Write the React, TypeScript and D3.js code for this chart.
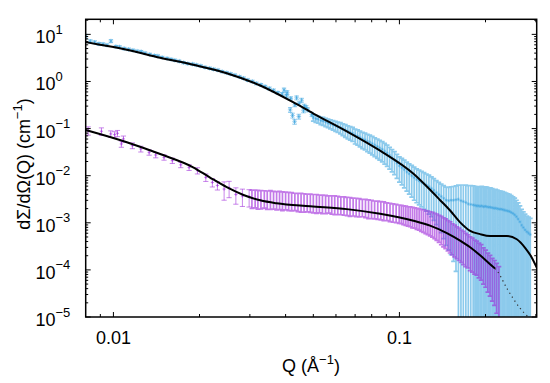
import React from 'react';
import * as d3 from 'd3';

const W = 550;
const H = 383;
const PL = 85.7, PR = 536.7, PT = 19.3, PB = 317;

// ---------- blue sample (upper curve) ----------
const blueLowQ = [0.0080, 0.0083, 0.0086, 0.0089, 0.0092, 0.0095, 0.0098, 0.0102, 0.0105, 0.0109, 0.0113, 0.0117, 0.0121, 0.0125, 0.0129, 0.0134, 0.0139, 0.0143, 0.0148, 0.0154, 0.0159, 0.0164, 0.0170, 0.0176, 0.0182, 0.0189, 0.0195, 0.0202, 0.0209, 0.0217, 0.0224, 0.0232, 0.0240, 0.0249, 0.0257, 0.0266, 0.0276, 0.0285, 0.0295, 0.0306, 0.0316, 0.0328, 0.0339, 0.0351, 0.0363, 0.0376, 0.0389, 0.0403, 0.0417, 0.0431, 0.0446, 0.0462, 0.0478, 0.0494, 0.0395, 0.0405, 0.0415, 0.0423, 0.0430, 0.0437, 0.0445, 0.0455, 0.0465, 0.0472];
const blueLowI = [9.1, 7.1, 6.8, 6.3, 6.2, 5.9, 7.2, 5.5, 5.4, 5.0, 4.8, 4.6, 4.4, 4.3, 4.0, 3.76, 3.55, 3.47, 3.24, 3.09, 2.95, 2.82, 2.69, 2.51, 2.40, 2.34, 2.24, 2.14, 2.00, 1.91, 1.82, 1.74, 1.62, 1.53, 1.45, 1.36, 1.26, 1.17, 1.07, 1.00, 0.91, 0.85, 0.78, 0.71, 0.645, 0.575, 0.537, 0.50, 0.437, 0.32, 0.34, 0.24, 0.251, 0.20, 0.66, 0.58, 0.25, 0.19, 0.14, 0.45, 0.18, 0.40, 0.30, 0.28];
const blueLowRelErr = [0.1, 0.08, 0.07, 0.07, 0.06, 0.06, 0.07, 0.06, 0.06, 0.06, 0.06, 0.05, 0.05, 0.05, 0.05, 0.05, 0.05, 0.05, 0.05, 0.05, 0.05, 0.05, 0.05, 0.05, 0.05, 0.05, 0.05, 0.05, 0.05, 0.05, 0.05, 0.05, 0.05, 0.05, 0.05, 0.05, 0.05, 0.06, 0.06, 0.06, 0.06, 0.06, 0.06, 0.07, 0.07, 0.07, 0.08, 0.08, 0.08, 0.09, 0.09, 0.1, 0.1, 0.1, 0.1, 0.1, 0.12, 0.12, 0.12, 0.1, 0.12, 0.1, 0.1, 0.1];

const blueHighQ = [0.0500, 0.0510, 0.0520, 0.0531, 0.0541, 0.0552, 0.0563, 0.0574, 0.0586, 0.0598, 0.0609, 0.0622, 0.0634, 0.0647, 0.0660, 0.0673, 0.0686, 0.0700, 0.0714, 0.0728, 0.0743, 0.0758, 0.0773, 0.0788, 0.0804, 0.0820, 0.0837, 0.0853, 0.0871, 0.0888, 0.0906, 0.0924, 0.0942, 0.0961, 0.0980, 0.1000, 0.1020, 0.1040, 0.1061, 0.1082, 0.1104, 0.1126, 0.1149, 0.1172, 0.1195, 0.1219, 0.1243, 0.1268, 0.1294, 0.1319, 0.1346, 0.1373, 0.1400, 0.1428, 0.1457, 0.1486, 0.1516, 0.1546, 0.1577, 0.1608, 0.1641, 0.1673, 0.1707, 0.1741, 0.1776, 0.1811, 0.1837, 0.1862, 0.1888, 0.1915, 0.1941, 0.1969, 0.1996, 0.2024, 0.2053, 0.2081, 0.2111, 0.2140, 0.2170, 0.2201, 0.2232, 0.2263, 0.2295, 0.2327, 0.2360, 0.2393, 0.2426, 0.2460, 0.2495, 0.2530, 0.2565, 0.2601, 0.2638, 0.2675, 0.2712, 0.2750, 0.2789, 0.2828, 0.2868];
const blueHighI = [0.170, 0.162, 0.158, 0.148, 0.145, 0.138, 0.132, 0.126, 0.120, 0.115, 0.110, 0.105, 0.098, 0.0933, 0.0871, 0.0832, 0.0794, 0.0724, 0.0692, 0.0646, 0.0603, 0.0575, 0.0537, 0.0513, 0.0479, 0.0447, 0.0417, 0.0389, 0.0363, 0.0331, 0.0302, 0.0269, 0.0240, 0.0214, 0.0186, 0.0162, 0.0148, 0.0135, 0.0120, 0.0110, 0.0100, 0.00912, 0.00832, 0.00776, 0.00724, 0.00676, 0.00631, 0.00589, 0.00537, 0.00490, 0.00437, 0.00398, 0.00363, 0.00331, 0.00302, 0.00295, 0.00302, 0.00302, 0.00309, 0.00316, 0.00295, 0.00282, 0.00269, 0.00251, 0.00245, 0.00240, 0.00234, 0.00229, 0.00229, 0.00224, 0.00229, 0.00219, 0.00224, 0.00219, 0.00214, 0.00214, 0.00209, 0.00204, 0.00204, 0.00200, 0.00195, 0.00195, 0.00191, 0.00186, 0.00182, 0.00178, 0.00174, 0.00166, 0.00158, 0.00148, 0.00135, 0.00120, 0.00105, 0.000891, 0.000794, 0.000708, 0.000646, 0.000603, 0.000562];
const blueHighRelErr = [0.15, 0.16, 0.17, 0.18, 0.19, 0.20, 0.21, 0.22, 0.23, 0.24, 0.25, 0.27, 0.28, 0.30, 0.31, 0.32, 0.33, 0.35, 0.36, 0.37, 0.38, 0.39, 0.40, 0.41, 0.42, 0.43, 0.44, 0.45, 0.46, 0.47, 0.48, 0.49, 0.50, 0.51, 0.53, 0.55, 0.57, 0.59, 0.61, 0.63, 0.65, 0.67, 0.68, 0.69, 0.70, 0.71, 0.72, 0.74, 0.75, 0.77, 0.79, 0.81, 0.83, 0.86, 0.89, 0.91, 0.93, 0.95, 0.97, 1.0, 1.15, 1.25, 1.35, 1.45, 1.5, 1.52, 1.54, 1.55, 1.56, 1.57, 1.58, 1.59, 1.6, 1.6, 1.58, 1.57, 1.55, 1.52, 1.5, 1.47, 1.44, 1.42, 1.4, 1.38, 1.35, 1.32, 1.3, 1.28, 1.26, 1.25, 1.23, 1.2, 1.18, 1.16, 1.15, 1.15, 1.16, 1.18, 1.2];

const blueFitQ = [0.0080, 0.00898, 0.01114, 0.01457, 0.0190, 0.0249, 0.0326, 0.0425, 0.050, 0.0655, 0.0856, 0.112, 0.128, 0.1388, 0.1504, 0.163, 0.1767, 0.1915, 0.2075, 0.2374, 0.2573, 0.2751, 0.2904, 0.3021];
const blueFitI = [6.85, 6.03, 4.72, 3.19, 2.26, 1.50, 0.822, 0.363, 0.209, 0.0871, 0.0339, 0.01096, 0.00501, 0.00302, 0.00182, 0.00102, 0.000676, 0.000575, 0.000525, 0.000525, 0.000447, 0.000295, 0.000182, 0.000112];

// ---------- purple sample (lower curve) ----------
const purpleLowQ = [0.00816, 0.00908, 0.00979, 0.0101, 0.01033, 0.01066, 0.01084, 0.01165, 0.01247, 0.01333, 0.01406, 0.01503, 0.01607, 0.0172, 0.01839, 0.01967, 0.02104, 0.02218, 0.0231, 0.02438, 0.02538, 0.0268, 0.02825, 0.02982];
const purpleLowI = [0.0906, 0.0877, 0.0771, 0.0745, 0.0794, 0.0472, 0.0604, 0.0435, 0.0370, 0.0313, 0.0275, 0.0245, 0.0209, 0.0170, 0.0150, 0.0128, 0.0092, 0.0072, 0.0062, 0.0052, 0.0055, 0.0040, 0.0037, 0.0036];
const purpleLowRelErr = [0.2, 0.18, 0.16, 0.15, 0.15, 0.15, 0.15, 0.14, 0.14, 0.13, 0.13, 0.13, 0.13, 0.13, 0.14, 0.15, 0.18, 0.2, 0.2, 0.42, 0.38, 0.38, 0.4, 0.4];

const purpleHighQ = [0.0305, 0.0313, 0.0320, 0.0328, 0.0337, 0.0345, 0.0354, 0.0363, 0.0372, 0.0381, 0.0390, 0.0400, 0.0410, 0.0420, 0.0431, 0.0442, 0.0453, 0.0464, 0.0476, 0.0488, 0.0500, 0.0513, 0.0525, 0.0538, 0.0552, 0.0566, 0.0580, 0.0594, 0.0609, 0.0624, 0.0640, 0.0656, 0.0672, 0.0689, 0.0706, 0.0724, 0.0742, 0.0761, 0.0780, 0.0799, 0.0819, 0.0840, 0.0861, 0.0882, 0.0904, 0.0927, 0.0950, 0.0974, 0.0998, 0.1016, 0.1034, 0.1053, 0.1072, 0.1091, 0.1111, 0.1131, 0.1151, 0.1172, 0.1193, 0.1214, 0.1236, 0.1258, 0.1281, 0.1304, 0.1328, 0.1351, 0.1376, 0.1401, 0.1426, 0.1451, 0.1478, 0.1504, 0.1531, 0.1559, 0.1587, 0.1616, 0.1645, 0.1674, 0.1705, 0.1735, 0.1767, 0.1798, 0.1831, 0.1864, 0.1897, 0.1931, 0.1966, 0.2002, 0.2038, 0.2074, 0.2112, 0.2150, 0.2188, 0.2228];
const purpleHighI = [0.00347, 0.00352, 0.00341, 0.00338, 0.00342, 0.00333, 0.00339, 0.00330, 0.00324, 0.00328, 0.00316, 0.00319, 0.00312, 0.00309, 0.00303, 0.00298, 0.00296, 0.00291, 0.00288, 0.00286, 0.00281, 0.00279, 0.00276, 0.00271, 0.00269, 0.00267, 0.00262, 0.00260, 0.00258, 0.00251, 0.00249, 0.00244, 0.00241, 0.00236, 0.00234, 0.00230, 0.00224, 0.00222, 0.00215, 0.00212, 0.00206, 0.00203, 0.00199, 0.00194, 0.00188, 0.00183, 0.00177, 0.00173, 0.00168, 0.00165, 0.00160, 0.00157, 0.00152, 0.00150, 0.00145, 0.00142, 0.00137, 0.00134, 0.00128, 0.00125, 0.00120, 0.00117, 0.00112, 0.00108, 0.00102, 0.000980, 0.000910, 0.000855, 0.000790, 0.000745, 0.000680, 0.000635, 0.000580, 0.000540, 0.000498, 0.000465, 0.000424, 0.000392, 0.000356, 0.000333, 0.000300, 0.000281, 0.000255, 0.000242, 0.000219, 0.000202, 0.000172, 0.000153, 0.000130, 0.000116, 0.0000990, 0.0000880, 0.0000750, 0.0000603];
const purpleHighRelErr = [0.42, 0.41, 0.43, 0.42, 0.40, 0.42, 0.43, 0.41, 0.42, 0.42, 0.43, 0.41, 0.42, 0.42, 0.40, 0.42, 0.43, 0.42, 0.41, 0.42, 0.42, 0.43, 0.41, 0.42, 0.42, 0.40, 0.42, 0.43, 0.42, 0.41, 0.42, 0.42, 0.43, 0.41, 0.42, 0.42, 0.40, 0.42, 0.43, 0.42, 0.41, 0.42, 0.42, 0.43, 0.41, 0.42, 0.42, 0.42, 0.42, 0.42, 0.43, 0.44, 0.44, 0.45, 0.46, 0.46, 0.47, 0.48, 0.49, 0.50, 0.51, 0.52, 0.53, 0.54, 0.55, 0.57, 0.58, 0.60, 0.61, 0.62, 0.63, 0.64, 0.64, 0.65, 0.65, 0.66, 0.66, 0.67, 0.67, 0.67, 0.68, 0.68, 0.68, 0.68, 0.69, 0.70, 0.71, 0.72, 0.74, 0.76, 0.78, 0.80, 0.84, 0.95];

const purpleFitQ = [0.0080, 0.01114, 0.01457, 0.0190, 0.02178, 0.0249, 0.0285, 0.0326, 0.0372, 0.0488, 0.0655, 0.0856, 0.112, 0.128, 0.1465, 0.163, 0.1767, 0.1915, 0.2075, 0.2159];
const purpleFitI = [0.0933, 0.0513, 0.0288, 0.0151, 0.00912, 0.0057, 0.0039, 0.0030, 0.00259, 0.00224, 0.00195, 0.00155, 0.0011, 0.00087, 0.000603, 0.000417, 0.000302, 0.000204, 0.000132, 0.000107];
const purpleTailQ = [0.2159, 0.2196, 0.238, 0.2638, 0.286];
const purpleTailI = [0.000107, 0.000095, 0.0000398, 0.0000155, 0.0000093];

// ---------- axes ----------
const xMajor = [0.01, 0.1];
const xMajorLabels = ['0.01', '0.1'];
const xMinor = [0.009, 0.02, 0.03, 0.04, 0.05, 0.06, 0.07, 0.08, 0.09, 0.2, 0.3];
const yExponents = [1, 0, -1, -2, -3, -4, -5];

const BLUE = '#3FA6E0';
const PURPLE = '#9B22D8';
const FONT = 'Liberation Sans, Arial, Helvetica, sans-serif';

export default function App() {
  const x = d3.scaleLog().domain([0.008, 0.302]).range([PL, PR]);
  const y = d3.scaleLog().domain([1e-5, Math.pow(10, 1.32)]).range([PB, PT]);

  const errPath = (Q: number[], I: number[], R: number[], cap: number) => {
    const n = Math.min(Q.length, I.length, R.length);
    let p = '';
    for (let i = 0; i < n; i++) {
      const v = I[i];
      const e = v * R[i];
      const px = x(Q[i]);
      const yt = y(v + e);
      const lo = v - e;
      const yb = lo > 1e-7 ? y(lo) : PB + 20;
      p += `M${px.toFixed(2)},${yt.toFixed(2)}V${yb.toFixed(2)}`;
      p += `M${(px - cap).toFixed(2)},${yt.toFixed(2)}h${2 * cap}`;
      if (lo > 1e-7) p += `M${(px - cap).toFixed(2)},${yb.toFixed(2)}h${2 * cap}`;
    }
    return p;
  };

  const starPath = (Q: number[], I: number[], r: number) => {
    const n = Math.min(Q.length, I.length);
    let p = '';
    const d = r * 0.72;
    for (let i = 0; i < n; i++) {
      const px = x(Q[i]);
      const py = y(I[i]);
      p += `M${px - r},${py}h${2 * r}M${px},${py - r}v${2 * r}`;
      p += `M${px - d},${py - d}l${2 * d},${2 * d}M${px - d},${py + d}l${2 * d},${-2 * d}`;
    }
    return p;
  };

  const plusPath = (Q: number[], I: number[], r: number) => {
    const n = Math.min(Q.length, I.length);
    let p = '';
    for (let i = 0; i < n; i++) {
      const px = x(Q[i]);
      const py = y(I[i]);
      p += `M${px - r},${py}h${2 * r}M${px},${py - r}v${2 * r}`;
    }
    return p;
  };

  const line = d3
    .line<[number, number]>()
    .x((d) => x(d[0]))
    .y((d) => y(d[1]))
    .curve(d3.curveMonotoneX);

  const blueFit = line(blueFitQ.map((q, i) => [q, blueFitI[i]] as [number, number])) || '';
  const purpleFit = line(purpleFitQ.map((q, i) => [q, purpleFitI[i]] as [number, number])) || '';
  const purpleTail = line(purpleTailQ.map((q, i) => [q, purpleTailI[i]] as [number, number])) || '';

  const yMinor: number[] = [];
  for (let e = -5; e <= 1; e++) {
    for (let k = 2; k <= 9; k++) {
      const v = k * Math.pow(10, e);
      if (v < Math.pow(10, 1.32)) yMinor.push(v);
    }
  }

  return (
    <svg
      width={W}
      height={H}
      viewBox={`0 0 ${W} ${H}`}
      style={{ position: 'absolute', left: 0, top: 0, background: '#fff' }}
      fontFamily={FONT}
    >
      <defs>
        <clipPath id="plotClip">
          <rect x={PL} y={PT} width={PR - PL} height={PB - PT} />
        </clipPath>
      </defs>
      <rect x={0} y={0} width={W} height={H} fill="#fff" />

      <g clipPath="url(#plotClip)">
        {/* blue error bars and markers */}
        <path d={errPath(blueHighQ, blueHighI, blueHighRelErr, 2.4)} stroke={BLUE} strokeOpacity={0.6} strokeWidth={1.7} fill="none" />
        <path d={starPath(blueHighQ, blueHighI, 1.6)} stroke={BLUE} strokeOpacity={0.5} strokeWidth={0.8} fill="none" />
        <path d={errPath(blueLowQ, blueLowI, blueLowRelErr, 2.2)} stroke={BLUE} strokeOpacity={0.55} strokeWidth={1} fill="none" />
        <path d={starPath(blueLowQ, blueLowI, 2.3)} stroke={BLUE} strokeOpacity={0.6} strokeWidth={0.9} fill="none" />

        {/* purple error bars and markers */}
        <path d={errPath(purpleHighQ, purpleHighI, purpleHighRelErr, 2.4)} stroke={PURPLE} strokeOpacity={0.6} strokeWidth={1.7} fill="none" />
        <path d={errPath(purpleLowQ, purpleLowI, purpleLowRelErr, 2.6)} stroke={PURPLE} strokeOpacity={0.55} strokeWidth={1} fill="none" />
        <path d={plusPath(purpleLowQ, purpleLowI, 1.6)} stroke={PURPLE} strokeOpacity={0.55} strokeWidth={1} fill="none" />

        {/* fits */}
        <path d={purpleTail} stroke="#333" strokeWidth={1.2} strokeDasharray="1.2,3.5" fill="none" />
        <path d={blueFit} stroke="#000" strokeWidth={2} fill="none" />
        <path d={purpleFit} stroke="#000" strokeWidth={2} fill="none" />
      </g>

      {/* ticks */}
      <g stroke="#000" strokeWidth={1}>
        {xMajor.map((v) => (
          <g key={'xM' + v}>
            <line x1={x(v)} x2={x(v)} y1={PB} y2={PB - 5} />
            <line x1={x(v)} x2={x(v)} y1={PT} y2={PT + 5} />
          </g>
        ))}
        {xMinor.map((v) => (
          <g key={'xm' + v}>
            <line x1={x(v)} x2={x(v)} y1={PB} y2={PB - 3} />
            <line x1={x(v)} x2={x(v)} y1={PT} y2={PT + 3} />
          </g>
        ))}
        {yExponents.map((e) => (
          <g key={'yM' + e}>
            <line x1={PL} x2={PL + 5} y1={y(Math.pow(10, e))} y2={y(Math.pow(10, e))} />
            <line x1={PR} x2={PR - 5} y1={y(Math.pow(10, e))} y2={y(Math.pow(10, e))} />
          </g>
        ))}
        {yMinor.map((v) => (
          <g key={'ym' + v}>
            <line x1={PL} x2={PL + 2.5} y1={y(v)} y2={y(v)} />
            <line x1={PR} x2={PR - 2.5} y1={y(v)} y2={y(v)} />
          </g>
        ))}
      </g>

      {/* frame */}
      <rect x={PL} y={PT} width={PR - PL} height={PB - PT} fill="none" stroke="#000" strokeWidth={1.5} />

      {/* x tick labels */}
      {xMajor.map((v, i) => (
        <text key={'xl' + v} x={x(v)} y={344} fontSize={18} textAnchor="middle" fill="#000">
          {xMajorLabels[i]}
        </text>
      ))}

      {/* y tick labels */}
      {yExponents.map((e) => (
        <text key={'yl' + e} x={35.5} y={y(Math.pow(10, e)) + 9} fontSize={18} fill="#000">
          10
          <tspan dy={-9.5} fontSize={13}>
            {e < 0 ? '\u2212' + Math.abs(e) : String(e)}
          </tspan>
        </text>
      ))}

      {/* axis titles */}
      <text x={311} y={372} fontSize={18} textAnchor="middle" fill="#000">
        Q (Å
        <tspan dy={-8} fontSize={13}>
          {'\u22121'}
        </tspan>
        <tspan dy={8}>)</tspan>
      </text>
      <text transform="translate(30,164) rotate(-90)" fontSize={18} textAnchor="middle" fill="#000">
        dΣ/dΩ(Q) (cm
        <tspan dy={-8} fontSize={13}>
          {'\u22121'}
        </tspan>
        <tspan dy={8}>)</tspan>
      </text>
    </svg>
  );
}
